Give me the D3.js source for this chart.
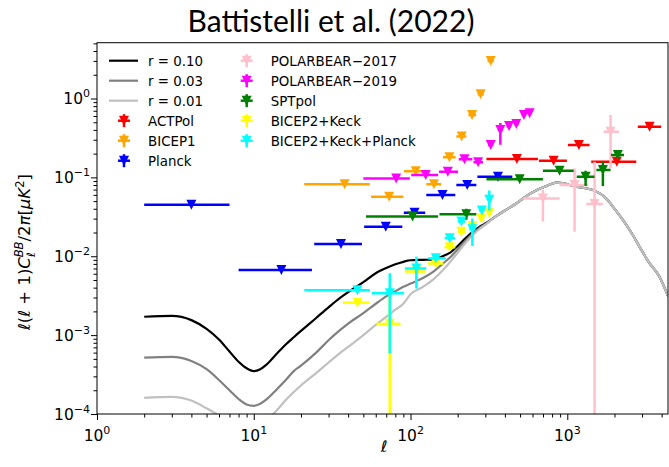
<!DOCTYPE html>
<html>
<head>
<meta charset="utf-8">
<script src="https://cdn.jsdelivr.net/npm/d3@7"></script>
<style>
  body { margin: 0; background: #fff; }
  svg { display: block; }
  text { font-family: "DejaVu Sans", sans-serif; fill: #000; }
</style>
</head>
<body>
<svg id="chart" width="669" height="467"></svg>
<script>
// ---- theory curves: l(l+1)C_l^BB/2pi for three tensor-to-scalar ratios ----
const curveEll = [2, 3, 4, 5, 6, 7, 8, 9, 10, 11, 12, 14, 16, 18, 20, 25, 30, 35, 40, 50, 60, 70, 80, 90, 100, 120, 140, 160, 180, 200, 225, 250, 275, 300,
  350, 400, 475, 550, 650, 750, 850, 950, 1035, 1200, 1456, 1773, 2000, 2261, 2600, 2890, 3300, 3873, 4400];
const lensTail = [0.032, 0.038, 0.047, 0.058, 0.070, 0.079, 0.0857, 0.084, 0.080, 0.075, 0.069, 0.054, 0.040, 0.0289, 0.019, 0.0132, 0.0085, 0.0055, 0.0031];
const r010 = [0.00171, 0.00175, 0.00155, 0.00120, 0.00088, 0.00062, 0.00046, 0.00038, 0.00035, 0.00037, 0.00042, 0.00058, 0.00076, 0.00094, 0.00113,
  0.00165, 0.00225, 0.0029, 0.0035, 0.0047, 0.0061, 0.0071, 0.0079, 0.0085, 0.0089, 0.0090, 0.0091, 0.0100, 0.0112, 0.0135, 0.0170, 0.0205, 0.0235, 0.026].concat(lensTail);
const r003 = [0.00052, 0.00053, 0.00047, 0.00037, 0.00027, 0.00020, 0.000155, 0.000132, 0.000127, 0.000135, 0.000152, 0.000205, 0.00027, 0.00035, 0.00041,
  0.00060, 0.00086, 0.00113, 0.00140, 0.0019, 0.0025, 0.0031, 0.0036, 0.0041, 0.0045, 0.0053, 0.0064, 0.0080, 0.0098, 0.0122, 0.0158, 0.0195, 0.0228, 0.0255].concat(lensTail);
const r001 = [0.00016, 0.000165, 0.000148, 0.000118, 0.000096, 0.000078, 0.000066, 0.000062, 0.000063, 0.00007, 0.000082, 0.000111, 0.00015, 0.00019, 0.00023,
  0.00033, 0.00045, 0.00058, 0.00071, 0.00100, 0.00135, 0.0017, 0.0021, 0.0025, 0.0033, 0.0041, 0.0051, 0.0066, 0.0086, 0.0111, 0.0148, 0.0186, 0.0220, 0.0250].concat(lensTail);

// ---- bandpowers: [ell, ellMin, ellMax, value, lowerEnd, upperEnd] (error ends optional) ----
const actpol = [
  [477, 305, 650, 0.171], [818, 659, 994, 0.163], [1186, 1009, 1387, 0.257],
  [2070, 1422, 2754, 0.158], [3349, 2818, 3970, 0.44]
];
const bicep1 = [
  [38, 21, 55, 0.082], [73, 56, 90, 0.057], [108, 91, 126, 0.12], [141, 126, 157, 0.082],
  [177, 161, 194, 0.18], [212, 196, 227, 0.33], [247, 234, 262, 0.62], [280, 268, 294, 1.13], [325, 310, 340, 3.0]
];
const planck = [
  [4, 2, 7, 0.045], [15, 8, 23.5, 0.0067], [36, 24.3, 49, 0.0143], [69.5, 50.6, 88.7, 0.0237],
  [106, 90.6, 124, 0.0357], [160, 126, 193, 0.0598], [230, 196, 263, 0.080], [361, 267, 446, 0.102]
];
const polarbear2017 = [
  [699, 521, 893, 0.054, 0.0275, 0.069], [1113, 893, 1361, 0.080, 0.0205, 0.130],
  [1493, 1322, 1687, 0.046, -0.07, 0.158], [1888, 1703, 2133, 0.38, 0.13, 0.62]
];
const polarbear2019 = [
  [81, 50, 99, 0.097], [125, 101, 150, 0.107], [173, 152, 201, 0.118], [221, 203, 248, 0.17],
  [270, 252, 290, 0.155], [325, 312, 338, 0.257], [374, 360, 388, 0.40, 0.26, 0.49],
  [425, 410, 440, 0.448], [473, 458, 488, 0.475], [529, 512, 546, 0.618], [575, 558, 592, 0.65]
];
const sptpol = [
  [103, 52, 150, 0.032], [227, 153, 263, 0.034, 0.029, 0.040], [497, 305, 699, 0.0946],
  [893, 699, 1099, 0.1216], [1309, 1148, 1493, 0.102, 0.078, 0.1216],
  [1687, 1532, 1888, 0.124, 0.078, 0.16], [2100, 1900, 2300, 0.192]
];
const bicepKeck = [
  [45.8, 37, 55, 0.00258], [73.7, 60.6, 86.2, 0.00139, -0.001, 0.004], [109, 92, 125, 0.0064, 0.0047, 0.0082],
  [145, 129, 162, 0.0081], [178, 165, 193, 0.013], [211, 200, 223, 0.0205], [248, 237, 260, 0.024],
  [283, 272, 295, 0.030], [318, 308, 330, 0.035]
];
const bicepKeckPlanck = [
  [45.8, 21, 55, 0.0037], [73.7, 56.6, 91, 0.0034, 0.00059, 0.0061], [109, 92, 126, 0.0070, 0.0039, 0.0099],
  [145, 129, 168, 0.0094], [178, 165, 193, 0.0169], [211, 200, 223, 0.0275], [248, 237, 260, 0.022, 0.0135, 0.030],
  [285, 274, 296, 0.038], [318, 308, 330, 0.052, 0.038, 0.068]
];

const curveNames = ["r = 0.10", "r = 0.03", "r = 0.01"];
const curveColors = ["#000000", "#808080", "#c0c0c0"];
const expNames = ["ACTPol", "BICEP1", "Planck", "POLARBEAR\u22122017", "POLARBEAR\u22122019", "SPTpol", "BICEP2+Keck", "BICEP2+Keck+Planck"];
const expColors = ["#ff0000", "#ffa500", "#0000ff", "#ffc0cb", "#ff00ff", "#008000", "#ffff00", "#00ffff"];
const expData = [actpol, bicep1, planck, polarbear2017, polarbear2019, sptpol, bicepKeck, bicepKeckPlanck];

const xMajor = [1, 10, 100, 1000];
const yMajor = [1e-4, 1e-3, 1e-2, 1e-1, 1];
const xExp = ["0", "1", "2", "3"];
const yExp = ["\u22124", "\u22123", "\u22122", "\u22121", "0"];

// ---- layout ----
const L = 97, R = 668, T = 42.7, B = 414;
const svg = d3.select("#chart");
const x = d3.scaleLog().domain([1, 4390]).range([L, R]);
const y = d3.scaleLog().domain([1e-4, 5.1]).range([B, T]);

svg.append("defs").append("clipPath").attr("id", "plotclip")
  .append("rect").attr("x", L).attr("y", T).attr("width", R - L).attr("height", B - T);

function minorTicks(lo, hi) {
  const out = [];
  for (let e = lo; e < hi; e++) for (let k = 2; k <= 9; k++) out.push(k * Math.pow(10, e));
  return out;
}

// axes
const xMinor = minorTicks(0, 4).filter(v => v <= 4390);
const yMinor = minorTicks(-4, 1).filter(v => v <= 5.1);
const gx = svg.append("g").attr("transform", `translate(0,${B})`);
gx.call(d3.axisBottom(x).tickValues(xMajor).tickSize(6).tickSizeOuter(0).tickFormat(""));
gx.append("g").call(d3.axisBottom(x).tickValues(xMinor).tickSize(3.5).tickSizeOuter(0).tickFormat(""));
const gy = svg.append("g").attr("transform", `translate(${L},0)`);
gy.call(d3.axisLeft(y).tickValues(yMajor).tickSize(6).tickSizeOuter(0).tickFormat(""));
gy.append("g").call(d3.axisLeft(y).tickValues(yMinor).tickSize(3.5).tickSizeOuter(0).tickFormat(""));
svg.selectAll(".domain").remove();
svg.selectAll(".tick line").attr("stroke", "#000").attr("stroke-width", 1);

xMajor.forEach((v, i) => {
  const t = svg.append("text").attr("x", x(v)).attr("y", 441).attr("text-anchor", "middle").attr("font-size", 15.5);
  t.append("tspan").text("10");
  t.append("tspan").attr("dy", -7).attr("font-size", 11).text(xExp[i]);
});
yMajor.forEach((v, i) => {
  const t = svg.append("text").attr("x", 90).attr("y", y(v) + 5.5).attr("text-anchor", "end").attr("font-size", 15.5);
  t.append("tspan").text("10");
  t.append("tspan").attr("dy", -7).attr("font-size", 11).text(yExp[i]);
});

// axis titles
svg.append("text").attr("x", 384).attr("y", 452).attr("text-anchor", "middle")
  .attr("font-size", 16).attr("font-style", "italic").text("\u2113");
const yl = svg.append("text").attr("transform", "translate(30,252) rotate(-90)")
  .attr("text-anchor", "middle").attr("font-size", 16.5);
yl.append("tspan").attr("font-style", "italic").text("\u2113");
yl.append("tspan").text("(");
yl.append("tspan").attr("font-style", "italic").text("\u2113");
yl.append("tspan").text(" + 1)");
yl.append("tspan").attr("font-style", "italic").text("C");
yl.append("tspan").attr("font-style", "italic").attr("font-size", 11.5).attr("dy", 4.5).text("\u2113");
yl.append("tspan").attr("font-style", "italic").attr("font-size", 11.5).attr("dx", -5).attr("dy", -12).text("BB");
yl.append("tspan").attr("dy", 7.5).text("/2");
yl.append("tspan").attr("font-style", "italic").text("\u03c0");
yl.append("tspan").text("[");
yl.append("tspan").attr("font-style", "italic").text("\u03bcK");
yl.append("tspan").attr("font-size", 11.5).attr("dy", -6.5).text("2");
yl.append("tspan").attr("dy", 6.5).text("]");

// title
svg.append("text").attr("x", 331).attr("y", 32).attr("text-anchor", "middle")
  .style("font-family", "Lato, 'Open Sans', sans-serif").attr("font-size", 30).text("Battistelli et al. (2022)");

// plot contents
const plot = svg.append("g").attr("clip-path", "url(#plotclip)");
const line = d3.line().x(d => x(d[0])).y(d => y(d[1])).curve(d3.curveMonotoneX);
[r010, r003, r001].forEach((vals, i) => {
  plot.append("path").datum(curveEll.map((l, k) => [l, vals[k]]))
    .attr("d", line).attr("fill", "none").attr("stroke", curveColors[i]).attr("stroke-width", 2.2);
});

const ms = 10;
const tri = `M${-ms / 2},${-ms / 2}L${ms / 2},${-ms / 2}L0,${ms / 2}Z`;
const yEnd = v => (v <= 0 ? B + 10 : y(v));
expData.forEach((rows, i) => {
  const g = plot.append("g").attr("stroke", expColors[i]).attr("fill", expColors[i]);
  rows.forEach(d => {
    g.append("line").attr("x1", x(d[1])).attr("x2", x(d[2])).attr("y1", y(d[3])).attr("y2", y(d[3])).attr("stroke-width", 2.5);
    if (d.length > 4) {
      g.append("line").attr("x1", x(d[0])).attr("x2", x(d[0])).attr("y1", yEnd(d[4])).attr("y2", y(d[5])).attr("stroke-width", 2.5);
    }
    g.append("path").attr("d", tri).attr("transform", `translate(${x(d[0])},${y(d[3])})`).attr("stroke", "none");
  });
});

// frame
svg.append("rect").attr("x", L).attr("y", T).attr("width", R - L).attr("height", B - T)
  .attr("fill", "none").attr("stroke", "#000").attr("stroke-width", 1);

// legend
const leg = svg.append("g");
curveNames.forEach((n, i) => {
  const yy = 60.7 + 20 * i;
  leg.append("line").attr("x1", 109).attr("x2", 138).attr("y1", yy).attr("y2", yy)
    .attr("stroke", curveColors[i]).attr("stroke-width", 2.2);
  leg.append("text").attr("x", 148).attr("y", yy + 5).attr("font-size", 13.4).text(n);
});
expNames.forEach((n, i) => {
  const col = i < 3 ? 0 : 1;
  const row = i < 3 ? i + 3 : i - 3;
  const cx = col === 0 ? 124 : 246.7;
  const tx = col === 0 ? 148 : 270.7;
  const yy = 60.7 + 20 * row;
  const g = leg.append("g").attr("stroke", expColors[i]).attr("fill", expColors[i]);
  g.append("line").attr("x1", cx - 6).attr("x2", cx + 6).attr("y1", yy).attr("y2", yy).attr("stroke-width", 2.5);
  g.append("line").attr("x1", cx).attr("x2", cx).attr("y1", yy - 6.5).attr("y2", yy + 6.5).attr("stroke-width", 2.5);
  g.append("path").attr("d", tri).attr("transform", `translate(${cx},${yy})`).attr("stroke", "none");
  leg.append("text").attr("x", tx).attr("y", yy + 5).attr("font-size", 13.4).text(n);
});
</script>
</body>
</html>
